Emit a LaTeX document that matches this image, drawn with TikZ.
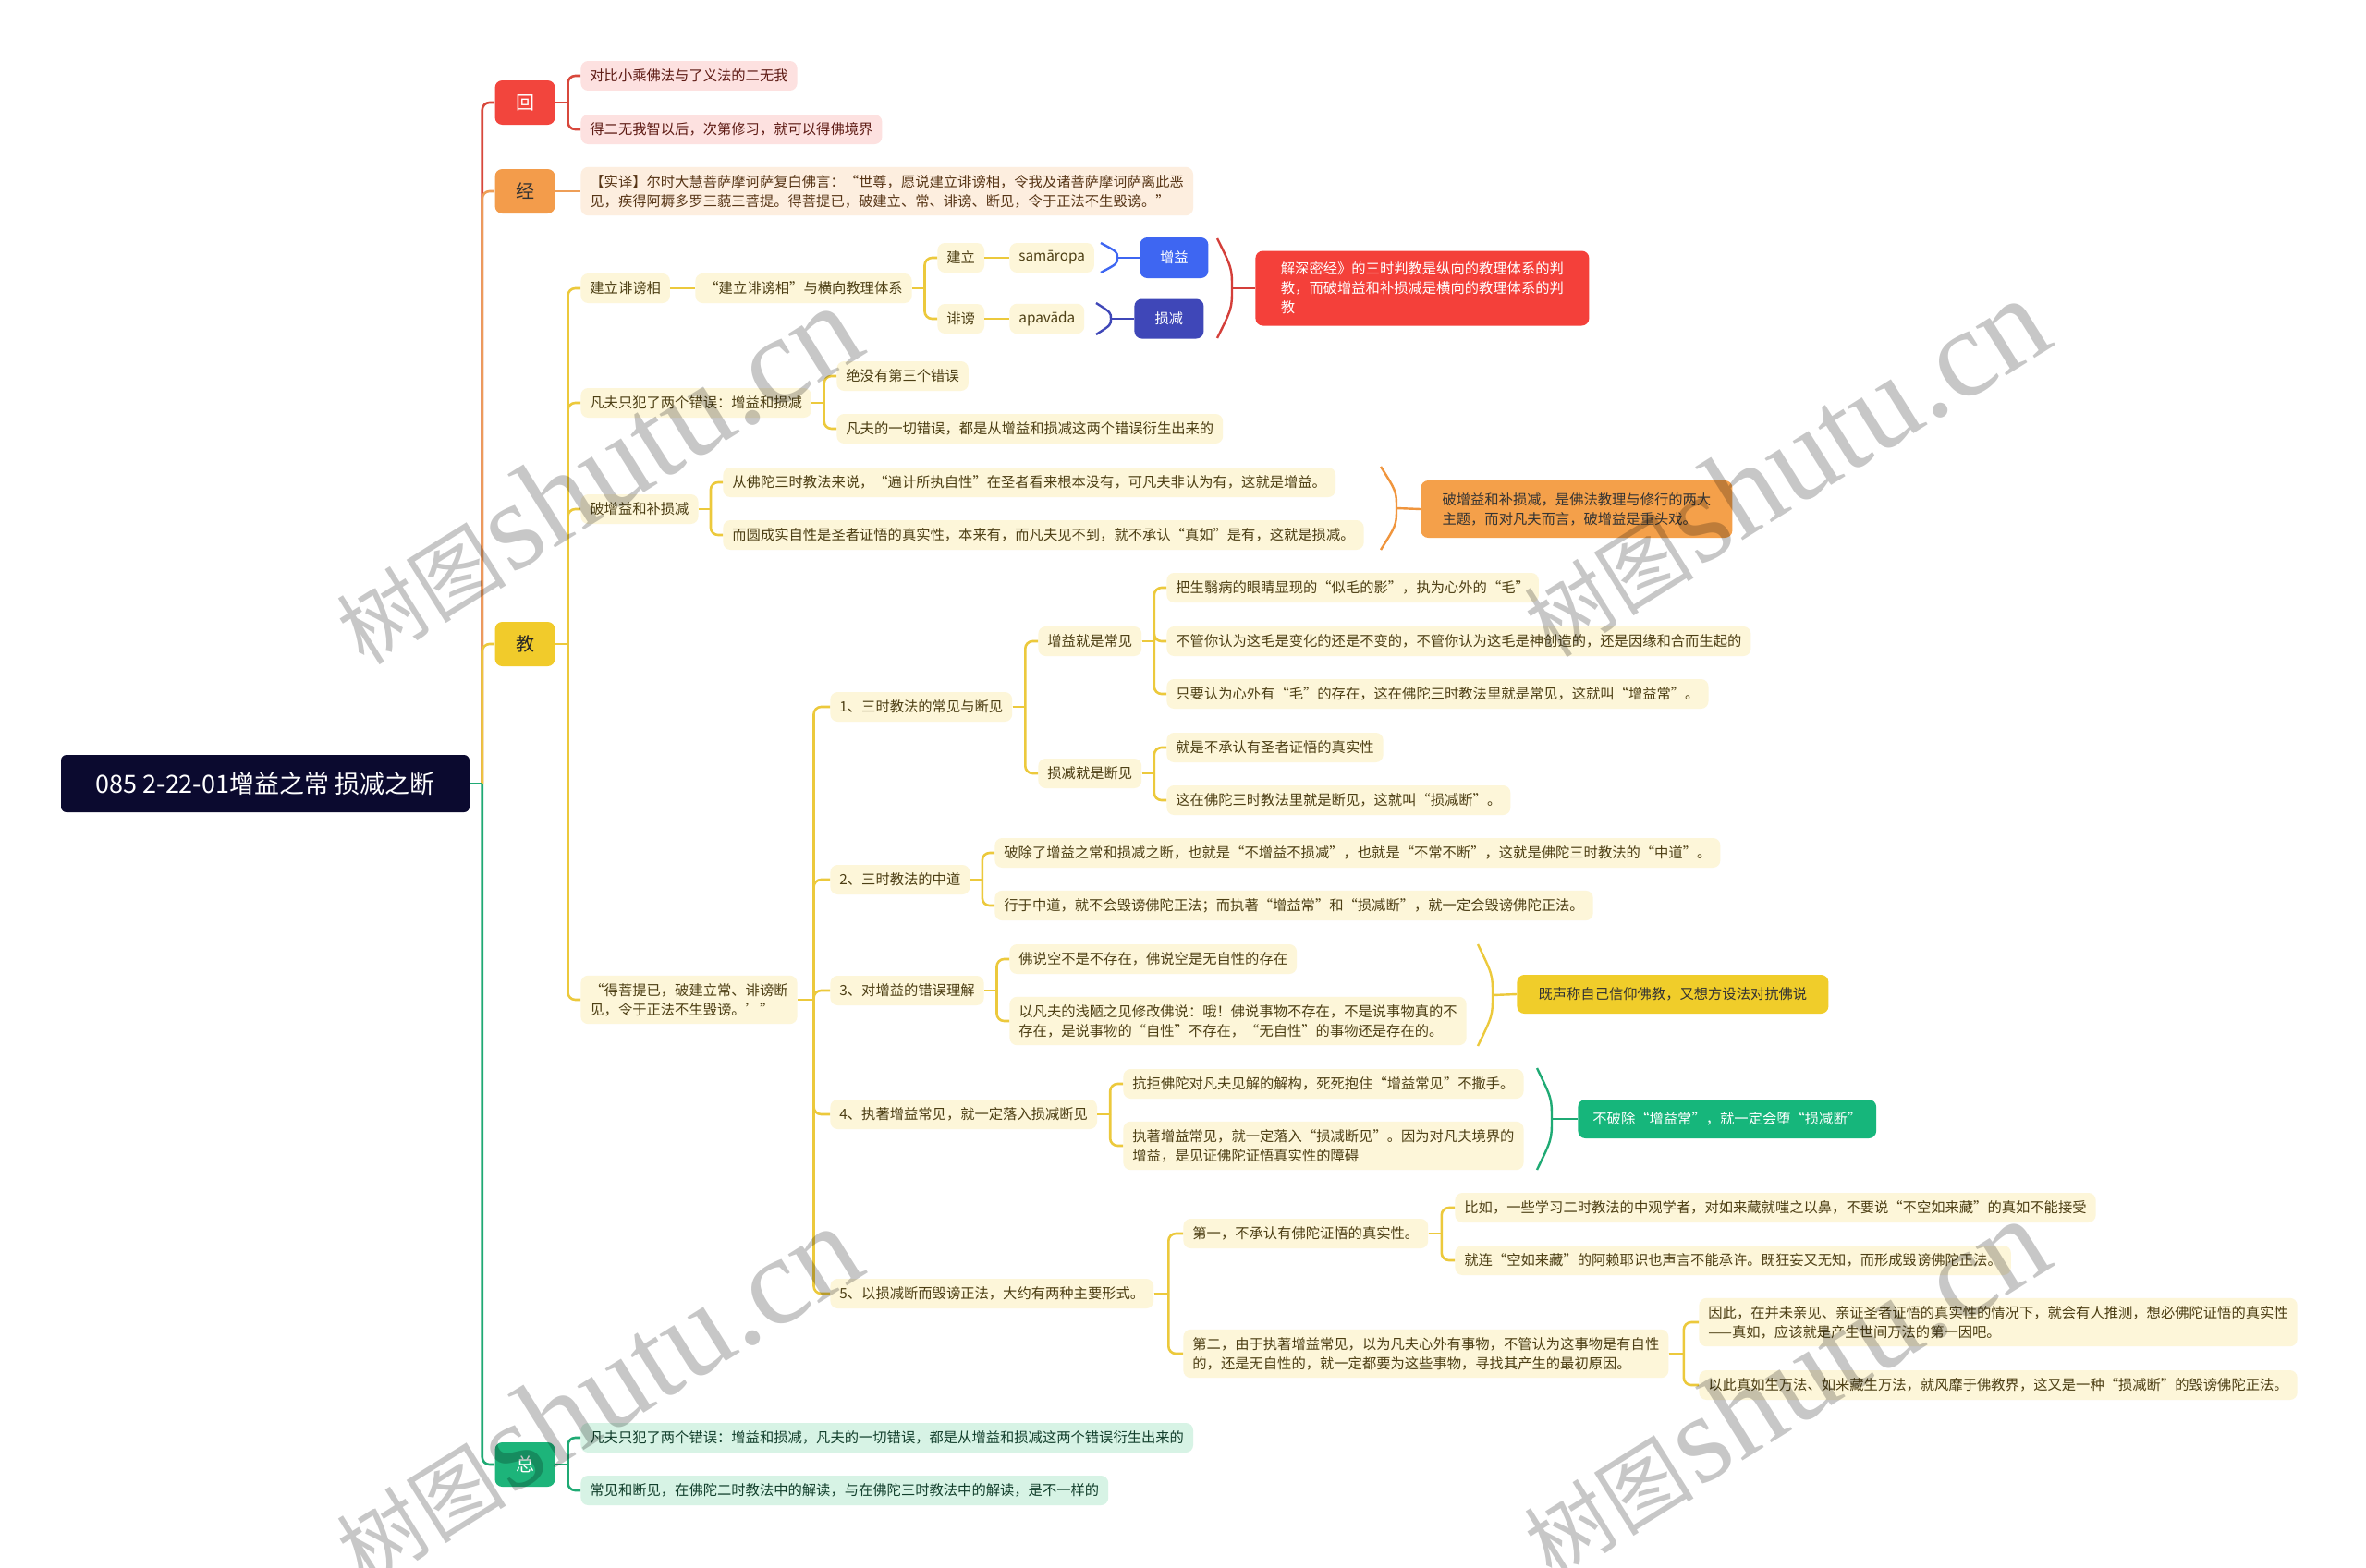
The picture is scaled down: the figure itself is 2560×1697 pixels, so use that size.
\documentclass[tikz,border=0pt]{standalone}
\usepackage{fontspec}
\setmainfont{Noto Sans CJK SC}
\newfontfamily\wmserif{Liberation Serif}
\usetikzlibrary{calc}

\definecolor{rootbg}{HTML}{0B0A2F}
\definecolor{huiC}{HTML}{F2453D}
\definecolor{huiL}{HTML}{D8483C}
\definecolor{huiLeaf}{HTML}{FDE1E0}
\definecolor{huiText}{HTML}{5E1B14}
\definecolor{jingC}{HTML}{F39C4B}
\definecolor{jingL}{HTML}{EE9E57}
\definecolor{jingLeaf}{HTML}{FDEEDF}
\definecolor{jingText}{HTML}{573516}
\definecolor{jiaoC}{HTML}{F1CB2B}
\definecolor{jiaoL}{HTML}{ECC93C}
\definecolor{jiaoLeaf}{HTML}{FDF6D9}
\definecolor{jiaoText}{HTML}{4D3F14}
\definecolor{zongC}{HTML}{1DB47A}
\definecolor{zongL}{HTML}{1FAA74}
\definecolor{zongLeaf}{HTML}{D7F3E5}
\definecolor{zongText}{HTML}{123F2C}
\definecolor{zyC}{HTML}{3E66F2}
\definecolor{sjC}{HTML}{3F47B8}
\definecolor{redbox}{HTML}{F4403A}
\definecolor{redL}{HTML}{D43F3A}
\definecolor{orangebox}{HTML}{F4A04A}
\definecolor{orangeL}{HTML}{F0953D}
\definecolor{yelbox}{HTML}{F0CD2A}
\definecolor{grnbox}{HTML}{16B67B}

\newcommand\leaffont{\fontsize{7.65pt}{10.5pt}\selectfont}

% elbow links from a parent to its children
\newcommand\branch[3]{%
  \foreach \c in {#3}{%
    \coordinate (fk) at ($(#1.east)!.5!(#1.east -| \c.west)$);
    \draw[link,#2] (#1.east) -- (fk);
    \draw[link,#2] (fk) |- (\c.west);}}

% summary bracket, leaves its tip in (tip)
\newcommand\sumbrace[5]{%
  \draw[#1,line width=1.2pt] (#2,#4) .. controls (#3,{#4+(#5-#4)*0.3}) .. (#3,{(#4+#5)/2})
    .. controls (#3,{#5-(#5-#4)*0.3}) .. (#2,#5);
  \coordinate (tip) at (#3,{(#4+#5)/2});}

\begin{document}
\begin{tikzpicture}[x=0.5pt,y=-0.5pt,
  link/.style={line width=1.3pt,rounded corners=4pt},
  rootbox/.style={fill=rootbg,text=white,rounded corners=3pt,minimum width=221pt,
    minimum height=31pt,font=\fontsize{13.5pt}{16pt}\selectfont},
  topic/.style={rounded corners=4pt,minimum width=32.5pt,minimum height=24pt,
    inner sep=0pt,font=\fontsize{10pt}{12pt}\selectfont},
  leaf/.style={anchor=west,rounded corners=4pt,inner xsep=5pt,inner ysep=4.2pt,
    minimum height=16pt,align=left,font=\leaffont},
  hleaf/.style={leaf,fill=huiLeaf,text=huiText},
  oleaf/.style={leaf,fill=jingLeaf,text=jingText},
  yleaf/.style={leaf,fill=jiaoLeaf,text=jiaoText},
  gleaf/.style={leaf,fill=zongLeaf,text=zongText},
  sumbox/.style={anchor=west,rounded corners=4pt,align=left,font=\leaffont,
    inner xsep=8pt,inner ysep=4pt}]

\fill[white] (0,0) rectangle (2560,1697);
\useasboundingbox (0,0) rectangle (2560,1697);

% root and main topics
\node[rootbox] (root) at (287,848) {085 2-22-01增益之常 损减之断};
\node[topic,fill=huiC,text=white] (hui) at (568,111) {回};
\node[topic,fill=jingC,text=black!80] (jing) at (568,207) {经};
\node[topic,fill=jiaoC,text=black!85] (jiao) at (568,697) {教};
\node[topic,fill=zongC,text=white] (zong) at (568,1585) {总};

% 回
\node[hleaf] (h1) at (628,82) {对比小乘佛法与了义法的二无我};
\node[hleaf] (h2) at (628,140) {得二无我智以后，次第修习，就可以得佛境界};

% 经
\node[oleaf] (j1) at (628,207) {【实译】尔时大慧菩萨摩诃萨复白佛言：“世尊，愿说建立诽谤相，令我及诸菩萨摩诃萨离此恶\\见，疾得阿耨多罗三藐三菩提。得菩提已，破建立、常、诽谤、断见，令于正法不生毁谤。”};

% 教
\node[yleaf] (jl) at (628,312) {建立诽谤相};
\node[yleaf] (jlq) at (752,312) {“建立诽谤相”与横向教理体系};
\node[yleaf] (jl1) at (1014,279) {建立};
\node[yleaf] (jl2) at (1014,345) {诽谤};
\node[yleaf] (sam) at (1092,279) {samāropa};
\node[yleaf] (apa) at (1092,345) {apavāda};
\node[sumbox,fill=zyC,text=white,minimum width=37pt,minimum height=22pt] (zy) at (1233,279) {增益};
\node[sumbox,fill=sjC,text=white,minimum width=37.5pt,minimum height=21.5pt] (sj) at (1227,345) {损减};
\node[sumbox,fill=redbox,text=white,minimum width=180.5pt,minimum height=40.5pt] (jm) at (1358,312)
  {解深密经》的三时判教是纵向的教理体系的判\\教，而破增益和补损减是横向的教理体系的判\\教};

\node[yleaf] (ff) at (628,436) {凡夫只犯了两个错误：增益和损减};
\node[yleaf] (ff1) at (905,407) {绝没有第三个错误};
\node[yleaf] (ff2) at (905,464) {凡夫的一切错误，都是从增益和损减这两个错误衍生出来的};

\node[yleaf] (pz) at (628,551) {破增益和补损减};
\node[yleaf] (pz1) at (782,522) {从佛陀三时教法来说，“遍计所执自性”在圣者看来根本没有，可凡夫非认为有，这就是增益。};
\node[yleaf] (pz2) at (782,579) {而圆成实自性是圣者证悟的真实性，本来有，而凡夫见不到，就不承认“真如”是有，这就是损减。};
\node[sumbox,fill=orangebox,text=black!80,minimum width=168.5pt,minimum height=31pt] (pzs) at (1537,551)
  {破增益和补损减，是佛法教理与修行的两大\\主题，而对凡夫而言，破增益是重头戏。};

\node[yleaf] (dp) at (628,1082) {“得菩提已，破建立常、诽谤断\\见，令于正法不生毁谤。’”};
\node[yleaf] (d1) at (898,765) {1、三时教法的常见与断见};
\node[yleaf] (d2) at (898,952) {2、三时教法的中道};
\node[yleaf] (d3) at (898,1072) {3、对增益的错误理解};
\node[yleaf] (d4) at (898,1206) {4、执著增益常见，就一定落入损减断见};
\node[yleaf] (d5) at (898,1400) {5、以损减断而毁谤正法，大约有两种主要形式。};

\node[yleaf] (d1a) at (1123,694) {增益就是常见};
\node[yleaf] (d1b) at (1123,837) {损减就是断见};
\node[yleaf] (a1) at (1262,636) {把生翳病的眼睛显现的“似毛的影”，执为心外的“毛”};
\node[yleaf] (a2) at (1262,694) {不管你认为这毛是变化的还是不变的，不管你认为这毛是神创造的，还是因缘和合而生起的};
\node[yleaf] (a3) at (1262,751) {只要认为心外有“毛”的存在，这在佛陀三时教法里就是常见，这就叫“增益常”。};
\node[yleaf] (b1) at (1262,809) {就是不承认有圣者证悟的真实性};
\node[yleaf] (b2) at (1262,866) {这在佛陀三时教法里就是断见，这就叫“损减断”。};

\node[yleaf] (c1) at (1076,923) {破除了增益之常和损减之断，也就是“不增益不损减”，也就是“不常不断”，这就是佛陀三时教法的“中道”。};
\node[yleaf] (c2) at (1076,980) {行于中道，就不会毁谤佛陀正法；而执著“增益常”和“损减断”，就一定会毁谤佛陀正法。};

\node[yleaf] (e1) at (1092,1038) {佛说空不是不存在，佛说空是无自性的存在};
\node[yleaf] (e2) at (1092,1105) {以凡夫的浅陋之见修改佛说：哦！佛说事物不存在，不是说事物真的不\\存在，是说事物的“自性”不存在，“无自性”的事物还是存在的。};
\node[sumbox,fill=yelbox,text=black!80,minimum width=168.5pt,minimum height=21pt] (e3s) at (1641,1076)
  {既声称自己信仰佛教，又想方设法对抗佛说};

\node[yleaf] (f1) at (1215,1173) {抗拒佛陀对凡夫见解的解构，死死抱住“增益常见”不撒手。};
\node[yleaf] (f2) at (1215,1240) {执著增益常见，就一定落入“损减断见”。因为对凡夫境界的\\增益，是见证佛陀证悟真实性的障碍};
\node[sumbox,fill=grnbox,text=white,minimum width=148pt,minimum height=21pt] (f4s) at (1707,1211)
  {不破除“增益常”，就一定会堕“损减断”};

\node[yleaf] (g1) at (1280,1335) {第一，不承认有佛陀证悟的真实性。};
\node[yleaf] (g2) at (1280,1465) {第二，由于执著增益常见，以为凡夫心外有事物，不管认为这事物是有自性\\的，还是无自性的，就一定都要为这些事物，寻找其产生的最初原因。};
\node[yleaf] (g1a) at (1574,1307) {比如，一些学习二时教法的中观学者，对如来藏就嗤之以鼻，不要说“不空如来藏”的真如不能接受};
\node[yleaf] (g1b) at (1574,1364) {就连“空如来藏”的阿赖耶识也声言不能承许。既狂妄又无知，而形成毁谤佛陀正法。};
\node[yleaf] (g2a) at (1838,1431) {因此，在并未亲见、亲证圣者证悟的真实性的情况下，就会有人推测，想必佛陀证悟的真实性\\——真如，应该就是产生世间万法的第一因吧。};
\node[yleaf] (g2b) at (1838,1499) {以此真如生万法、如来藏生万法，就风靡于佛教界，这又是一种“损减断”的毁谤佛陀正法。};

% 总
\node[gleaf] (z1) at (628,1556) {凡夫只犯了两个错误：增益和损减，凡夫的一切错误，都是从增益和损减这两个错误衍生出来的};
\node[gleaf] (z2) at (628,1613) {常见和断见，在佛陀二时教法中的解读，与在佛陀三时教法中的解读，是不一样的};

% links
\branch{root}{huiL}{hui}
\branch{root}{jingL}{jing}
\branch{root}{jiaoL}{jiao}
\branch{root}{zongL}{zong}
\branch{hui}{huiL}{h1,h2}
\draw[link,jingL] (jing.east) -- (j1.west);
\branch{jiao}{jiaoL}{jl,ff,pz,dp}
\draw[link,jiaoL] (jl.east) -- (jlq.west);
\branch{jlq}{jiaoL}{jl1,jl2}
\draw[link,jiaoL] (jl1.east) -- (sam.west);
\draw[link,jiaoL] (jl2.east) -- (apa.west);
\branch{ff}{jiaoL}{ff1,ff2}
\branch{pz}{jiaoL}{pz1,pz2}
\branch{dp}{jiaoL}{d1,d2,d3,d4,d5}
\branch{d1}{jiaoL}{d1a,d1b}
\branch{d1a}{jiaoL}{a1,a2,a3}
\branch{d1b}{jiaoL}{b1,b2}
\branch{d2}{jiaoL}{c1,c2}
\branch{d3}{jiaoL}{e1,e2}
\branch{d4}{jiaoL}{f1,f2}
\branch{d5}{jiaoL}{g1,g2}
\branch{g1}{jiaoL}{g1a,g1b}
\branch{g2}{jiaoL}{g2a,g2b}
\branch{zong}{zongL}{z1,z2}

% summary brackets
\sumbrace{zyC}{1191}{1209}{263}{295}
\draw[zyC,line width=1.2pt] (tip) -- (zy.west);
\sumbrace{sjC}{1186}{1202}{328}{362}
\draw[sjC,line width=1.2pt] (tip) -- (sj.west);
\sumbrace{redL}{1317}{1333}{258}{366}
\draw[redL,line width=1.2pt] (tip) -- (jm.west);
\sumbrace{orangeL}{1494}{1511}{505}{595}
\draw[orangeL,line width=1.2pt] (tip) -- (pzs.west);
\sumbrace{jiaoL}{1599}{1615}{1022}{1132}
\draw[jiaoL,line width=1.2pt] (tip) -- (e3s.west);
\sumbrace{zongL}{1663}{1679}{1156}{1266}
\draw[zongL,line width=1.2pt] (tip) -- (f4s.west);

% watermarks
\foreach \wx/\wy [count=\i] in {645/514,1930/506,645/1510,1930/1502}
  \node[rotate=32,text=black,text opacity=0.22,inner sep=0pt] (wm\i) at (\wx,\wy)
    {{\fontsize{46pt}{50pt}\selectfont 树图}\,{\wmserif\fontsize{68pt}{70pt}\selectfont shutu.cn}};
\end{tikzpicture}
\end{document}
